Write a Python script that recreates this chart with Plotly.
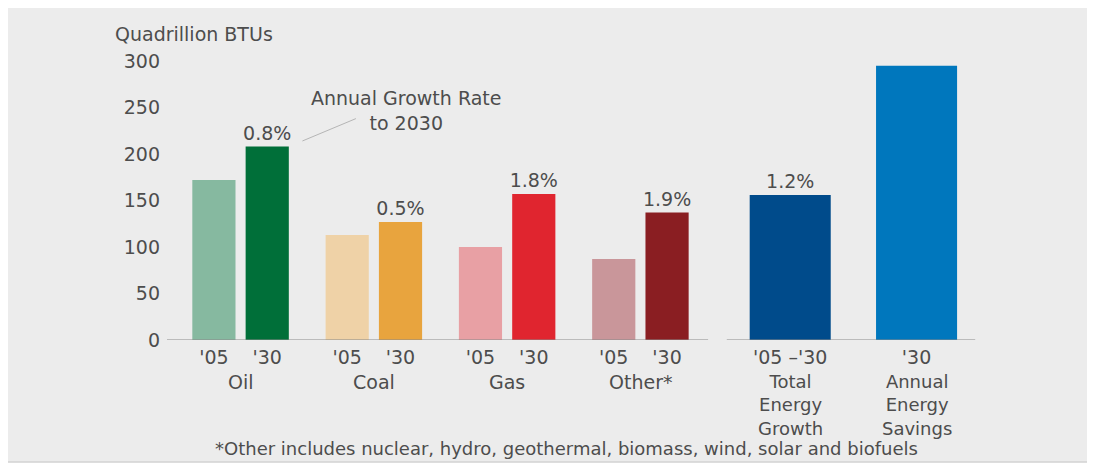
import plotly.graph_objects as go

# ---- data ----
fuels = ["Oil", "Coal", "Gas", "Other*"]
values_2005 = [172, 113, 100, 87]
values_2030 = [208, 127, 157, 137]
growth_2030 = ["0.8%", "0.5%", "1.8%", "1.9%"]
colors_2005 = ["#86b9a0", "#efd2a7", "#e8a0a4", "#c9969a"]
colors_2030 = ["#006f39", "#e8a43e", "#e0252f", "#8a1e22"]
year_labels = ["'05", "'30"]

total_labels = ["Total<br>Energy<br>Growth", "Annual<br>Energy<br>Savings"]
total_ticks = ["'05 –'30", "'30"]
total_values = [156, 295]
total_growth = ["1.2%", ""]
total_colors = ["#004b8b", "#0077bd"]

y_ticks = [0, 50, 100, 150, 200, 250, 300]
y_title = "Quadrillion BTUs"
note = "*Other includes nuclear, hydro, geothermal, biomass, wind, solar and biofuels"
callout = "Annual Growth Rate<br>to 2030"

# ---- layout constants ----
FONT = "DejaVu Sans"
TXT = "#4d4d4d"
FS = 19
GROUP_STEP = 2.5
PAIR_W = 0.81
TOTAL_POS = [10.81, 13.18]
TOTAL_W = 1.52
OFF = 8  # page body margin
PAGE_W, PAGE_H = 1095, 468
W, H = PAGE_W - OFF, PAGE_H - OFF
PLOT_L, PLOT_R, PLOT_T, PLOT_B = 167, 980, 61, 340   # in page pixels
L, R, T, B = PLOT_L - OFF, PAGE_W - PLOT_R, PLOT_T - OFF, PAGE_H - PLOT_B
XR = [-0.88, 14.37]

fig = go.Figure()

pos05 = [i * GROUP_STEP for i in range(len(fuels))]
pos30 = [p + 1 for p in pos05]

label_font = dict(family=FONT, size=FS, color=TXT)

fig.add_trace(go.Bar(x=pos05, y=values_2005, width=PAIR_W, marker_color=colors_2005,
                     marker_line_width=0, showlegend=False, hoverinfo="y"))
fig.add_trace(go.Bar(x=pos30, y=values_2030, width=PAIR_W, marker_color=colors_2030,
                     marker_line_width=0, text=growth_2030, textposition="outside",
                     textfont=label_font, constraintext="none",
                     cliponaxis=False, showlegend=False, hoverinfo="y"))
fig.add_trace(go.Bar(x=TOTAL_POS, y=total_values, width=TOTAL_W, marker_color=total_colors,
                     marker_line_width=0, text=total_growth, textposition="outside",
                     textfont=label_font, constraintext="none",
                     cliponaxis=False, showlegend=False, hoverinfo="y"))

tickvals = []
ticktext = []
for a, b in zip(pos05, pos30):
    tickvals += [a, b]
    ticktext += year_labels
tickvals += TOTAL_POS
ticktext += total_ticks

annotations = []

# group names below the year ticks
for name, a, b in zip(fuels, pos05, pos30):
    annotations.append(dict(x=(a + b) / 2, y=0, xref="x", yref="y", text=name,
                            showarrow=False, xanchor="center", yanchor="middle",
                            yshift=-42, font=label_font))
for lab, p in zip(total_labels, TOTAL_POS):
    annotations.append(dict(x=p, y=0, xref="x", yref="y", text=lab,
                            showarrow=False, xanchor="center", yanchor="top",
                            yshift=-30, borderpad=0,
                            font=dict(family=FONT, size=18, color=TXT)))

# callout text and leader line
annotations.append(dict(x=3.6, y=247, xref="x", yref="y", text=callout, showarrow=False,
                        xanchor="center", yanchor="middle", font=label_font))
annotations.append(dict(x=1.66, y=214, xref="x", yref="y", text="", showarrow=True,
                        arrowhead=0, arrowwidth=1, arrowcolor="#b5b5b5", ax=55, ay=-23))

pw = PLOT_R - PLOT_L
ph = PLOT_B - PLOT_T


def px(xp):
    return (xp - PLOT_L) / pw


def py(yp):
    return (PLOT_B - yp) / ph


# y title and footnote
annotations.append(dict(x=px(113), y=py(34), xref="paper", yref="paper", text=y_title,
                        showarrow=False, xanchor="left", yanchor="middle", font=label_font))
annotations.append(dict(x=px(566), y=py(448), xref="paper", yref="paper", text=note,
                        showarrow=False, xanchor="center", yanchor="middle",
                        font=dict(family=FONT, size=18, color=TXT)))

shapes = [
    # panel background
    dict(type="rect", xref="paper", yref="paper", layer="below",
         x0=px(6), x1=px(1089), y0=py(462), y1=py(5),
         fillcolor="#ececec", line=dict(color="#d2d2d2", width=1.5)),
    # baseline segments
    dict(type="line", xref="x", yref="y", x0=XR[0], x1=9.27, y0=0, y1=0,
         line=dict(color="#8a8a8a", width=1.2)),
    dict(type="line", xref="x", yref="y", x0=9.62, x1=14.28, y0=0, y1=0,
         line=dict(color="#8a8a8a", width=1.2)),
]

fig.update_layout(
    width=W, height=H,
    margin=dict(l=L, r=R, t=T, b=B),
    paper_bgcolor="#ffffff",
    plot_bgcolor="rgba(0,0,0,0)",
    barmode="overlay",
    annotations=annotations,
    shapes=shapes,
    font=label_font,
    xaxis=dict(range=XR, tickvals=tickvals, ticktext=ticktext, showgrid=False,
               zeroline=False, showline=False, ticks="", ticklabelstandoff=4,
               tickfont=label_font, fixedrange=True),
    yaxis=dict(range=[0, 300], tickvals=y_ticks, showgrid=False, zeroline=False,
               showline=False, ticks="", ticklabelstandoff=6,
               tickfont=label_font, fixedrange=True),
)

fig.write_html("out.html")
